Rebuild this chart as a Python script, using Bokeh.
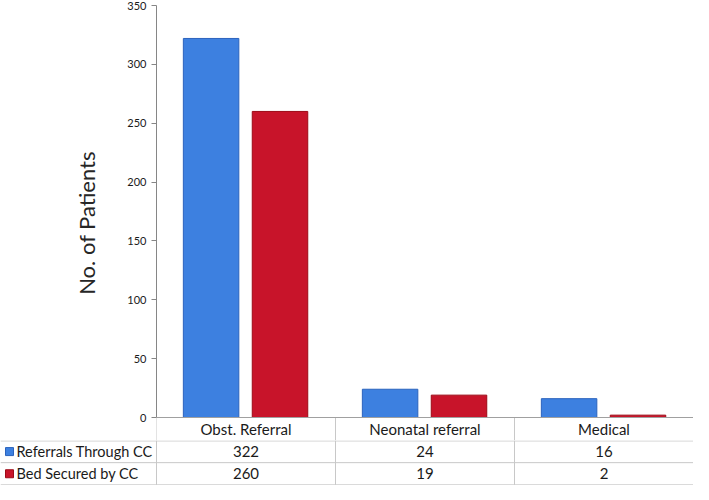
from bokeh.plotting import figure
from bokeh.models import Range1d, FactorRange, FixedTicker, ColumnDataSource, Span
from bokeh.transform import dodge
from bokeh.layouts import column
from bokeh.embed import file_html
from bokeh.resources import INLINE
from bokeh.core.properties import value

categories = ["Obst. Referral", "Neonatal referral", "Medical"]
series_names = ["Referrals Through CC", "Bed Secured by CC"]
referrals = [322, 24, 16]
bed_secured = [260, 19, 2]
y_ticks = [0, 50, 100, 150, 200, 250, 300, 350]

FONT = "Lato"
BLUE = "#3d80e0"
BLUE_EDGE = "#2b63bd"
RED = "#c8142a"
RED_EDGE = "#9c0a16"
GRID = "#c8c8c8"
TEXT = "#1a1a1a"

W = 693
LEFT = 156
TOP_H = 440
BORDER_TOP = 5
HEADER_PX = 23
ROW_PX = 22
cat_px = (W - LEFT) / len(categories)
frame_h = TOP_H - BORDER_TOP
ymax = y_ticks[-1]
ppu = (frame_h - HEADER_PX) / ymax
header_units = HEADER_PX / ppu

p = figure(width=W, height=TOP_H,
           x_range=FactorRange(factors=categories),
           y_range=Range1d(-header_units, ymax),
           output_backend="svg", toolbar_location=None,
           min_border_left=LEFT, min_border_right=0,
           min_border_top=BORDER_TOP, min_border_bottom=0,
           x_axis_location=None, frame_align=False)

src = ColumnDataSource(dict(cat=categories, ref=referrals, bed=bed_secured,
                            neg=[-header_units] * len(categories),
                            zero=[0] * len(categories)))

p.vbar(x=dodge('cat', -0.195, range=p.x_range), top='ref', width=0.31, source=src,
       fill_color=BLUE, line_color=BLUE_EDGE, line_width=1)
p.vbar(x=dodge('cat', 0.19, range=p.x_range), top='bed', width=0.31, source=src,
       fill_color=RED, line_color=RED_EDGE, line_width=1)

# header row of the data table
p.add_layout(Span(location=0, dimension='width', line_color="#a0a0a0", line_width=1))
p.segment(x0=dodge('cat', -0.5, range=p.x_range), y0='neg',
          x1=dodge('cat', -0.5, range=p.x_range), y1='zero', source=src,
          line_color=GRID, line_width=1)
p.segment(x0=dodge('cat', 0.5, range=p.x_range), y0='neg',
          x1=dodge('cat', 0.5, range=p.x_range), y1='zero', source=src,
          line_color=GRID, line_width=1)
p.text(x='cat', y=-header_units / 2, text='cat', source=src,
       text_align="center", text_baseline="middle",
       text_font=value(FONT), text_font_size="15px", text_color=TEXT)

yax = p.yaxis[0]
yax.bounds = (0, ymax)
yax.ticker = FixedTicker(ticks=y_ticks)
yax.minor_tick_line_color = None
yax.major_tick_in = 0
yax.major_tick_out = 5
yax.axis_line_color = "#868686"
yax.major_tick_line_color = "#868686"
yax.major_label_text_font = FONT
yax.major_label_text_font_size = "11px"
yax.major_label_text_color = TEXT
yax.axis_label = "No. of Patients"
yax.axis_label_text_font = FONT
yax.axis_label_text_font_size = "22px"
yax.axis_label_text_font_style = "normal"
yax.axis_label_text_color = "#262626"
yax.axis_label_standoff = 24
p.grid.visible = False
p.outline_line_color = None

# value rows of the data table
n_rows = len(series_names)
x_left = -LEFT / cat_px
t = figure(width=W, height=n_rows * ROW_PX + 1,
           x_range=Range1d(x_left, len(categories)),
           y_range=Range1d(-0.03, n_rows),
           output_backend="svg", toolbar_location=None,
           x_axis_location=None, y_axis_location=None,
           min_border_left=0, min_border_right=0,
           min_border_top=0, min_border_bottom=0, frame_align=False)
t.grid.visible = False
t.outline_line_color = None

series_vals = [referrals, bed_secured]
series_cols = [BLUE, RED]
vx, vy, vt = [], [], []
for r, vals in enumerate(series_vals):
    for c, v in enumerate(vals):
        vx.append(c + 0.5)
        vy.append(n_rows - r - 0.5)
        vt.append(str(v))
t.text(x=vx, y=vy, text=vt, text_align="center", text_baseline="middle",
       text_font=value(FONT), text_font_size="15px", text_color=TEXT)

ly = [n_rows - r - 0.5 for r in range(n_rows)]
t.scatter(x=[x_left + 9 / cat_px] * n_rows, y=ly, marker="square", size=8,
          fill_color=series_cols, line_color=[BLUE_EDGE, RED_EDGE])
t.text(x=[x_left + 16 / cat_px] * n_rows, y=ly, text=series_names,
       text_align="left", text_baseline="middle",
       text_font=value(FONT), text_font_size="14.5px", text_color=TEXT)

hy = [float(k) for k in range(n_rows + 1)]
hy[-1] = n_rows - 0.02
t.segment(x0=[x_left] * len(hy), y0=hy, x1=[len(categories)] * len(hy), y1=hy,
          line_color=GRID, line_width=1)
bx = list(range(len(categories) + 1))
t.segment(x0=bx, y0=[0] * len(bx), x1=bx, y1=[n_rows] * len(bx),
          line_color=GRID, line_width=1)

layout = column(p, t, spacing=0)
open("out.html", "w").write(file_html(layout, INLINE))
